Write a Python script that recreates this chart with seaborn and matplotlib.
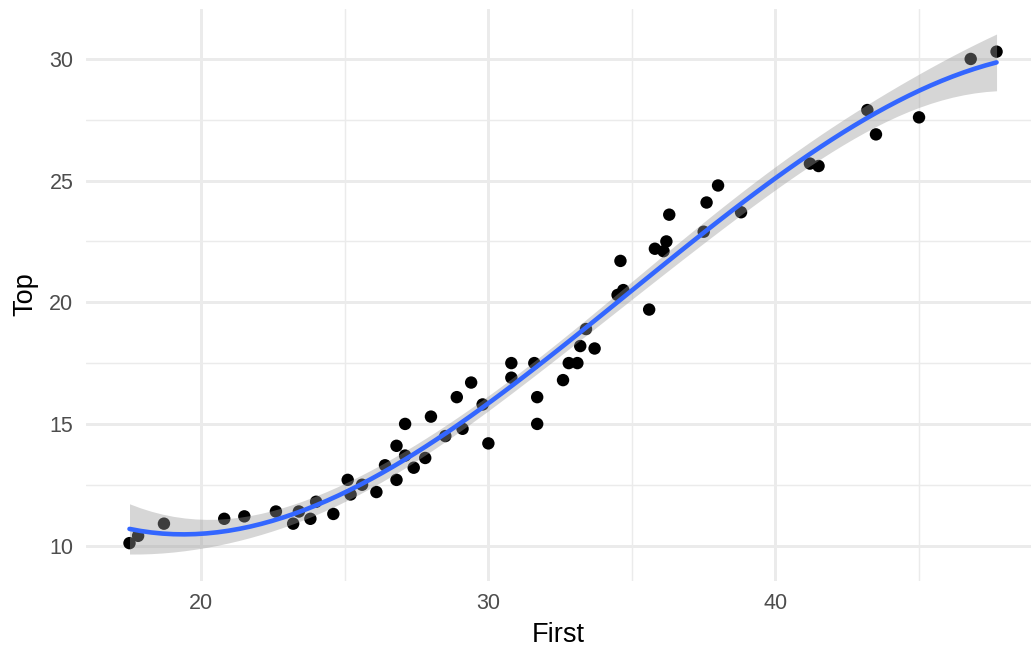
import numpy as np
import pandas as pd
import matplotlib
matplotlib.use("Agg")
import matplotlib.pyplot as plt
from matplotlib.ticker import MultipleLocator
import seaborn as sns

# ---- data ----
first = [17.5, 17.8, 18.7, 20.8, 21.5, 22.6, 23.2, 23.4, 23.8, 24.0,
         24.6, 25.1, 25.2, 25.6, 26.1, 26.4, 26.8, 26.8, 27.1, 27.1,
         27.4, 27.8, 28.0, 28.5, 28.9, 29.1, 29.4, 29.8, 30.0, 30.8,
         30.8, 31.6, 31.7, 31.7, 32.6, 32.8, 33.1, 33.2, 33.4, 33.7,
         34.5, 34.7, 34.6, 35.6, 35.8, 36.1, 36.2, 36.3, 37.5, 37.6,
         38.0, 38.8, 41.2, 41.5, 43.2, 43.5, 45.0, 46.8, 47.7]
top = [10.1, 10.4, 10.9, 11.1, 11.2, 11.4, 10.9, 11.4, 11.1, 11.8,
       11.3, 12.7, 12.1, 12.5, 12.2, 13.3, 14.1, 12.7, 15.0, 13.7,
       13.2, 13.6, 15.3, 14.5, 16.1, 14.8, 16.7, 15.8, 14.2, 17.5,
       16.9, 17.5, 16.1, 15.0, 16.8, 17.5, 17.5, 18.2, 18.9, 18.1,
       20.3, 20.5, 21.7, 19.7, 22.2, 22.1, 22.5, 23.6, 22.9, 24.1,
       24.8, 23.7, 25.7, 25.6, 27.9, 26.9, 27.6, 30.0, 30.3]
x_ticks = [20, 30, 40]
y_ticks = [10, 15, 20, 25, 30]

df = pd.DataFrame({"First": first, "Top": top})

# ---- cubic least-squares smooth with 95% confidence band ----
xv = df["First"].to_numpy(float)
yv = df["Top"].to_numpy(float)
deg = 3
c = xv.mean()
X = np.vander(xv - c, deg + 1)
beta, *_ = np.linalg.lstsq(X, yv, rcond=None)
resid = yv - X @ beta
dof = len(xv) - (deg + 1)
sigma2 = resid @ resid / dof
XtX_inv = np.linalg.inv(X.T @ X)
z = 1.959964
tq = z + (z ** 3 + z) / (4 * dof) + (5 * z ** 5 + 16 * z ** 3 + 3 * z) / (96 * dof ** 2)

xs = np.linspace(xv.min(), xv.max(), 80)
Xs = np.vander(xs - c, deg + 1)
fit = Xs @ beta
se = np.sqrt(sigma2 * np.einsum("ij,jk,ik->i", Xs, XtX_inv, Xs))
smooth = pd.DataFrame({"First": xs, "Top": fit,
                       "lo": fit - tq * se, "hi": fit + tq * se})

# ---- plot ----
sns.set_theme(style="white")
plt.rcParams["font.family"] = ["Liberation Sans", "DejaVu Sans"]

fig = plt.figure(figsize=(10.31, 6.48), dpi=100)
ax = fig.add_axes([86 / 1031, 1 - 580.6 / 648, 945 / 1031, (580.6 - 8.6) / 648])

sns.scatterplot(data=df, x="First", y="Top", ax=ax, color="black",
                s=80, edgecolor="none", linewidth=0, zorder=2)
ax.fill_between(smooth["First"], smooth["lo"], smooth["hi"],
                color="#999999", alpha=0.4, linewidth=0, zorder=3)
sns.lineplot(data=smooth, x="First", y="Top", ax=ax, color="#3366FF",
             linewidth=3.3, zorder=4)

ax.set_xlim(15.985, 48.9)
ax.set_ylim(8.56, 32.07)
ax.set_xticks(x_ticks)
ax.set_yticks(y_ticks)
ax.xaxis.set_minor_locator(MultipleLocator(5))
ax.yaxis.set_minor_locator(MultipleLocator(2.5))
ax.grid(which="major", color="#EBEBEB", linewidth=2.1, zorder=0)
ax.grid(which="minor", color="#EBEBEB", linewidth=1.05, zorder=0)
ax.set_axisbelow(True)
for s in ax.spines.values():
    s.set_visible(False)
ax.tick_params(which="both", length=0)
ax.tick_params(axis="both", which="major", labelsize=15.5,
               labelcolor="#4D4D4D", pad=9)
ax.set_xlabel("First", fontsize=19.5, color="black", labelpad=6)
ax.set_ylabel("Top", fontsize=19.5, color="black", labelpad=8)

fig.savefig("out.png", dpi=100, facecolor="white")
